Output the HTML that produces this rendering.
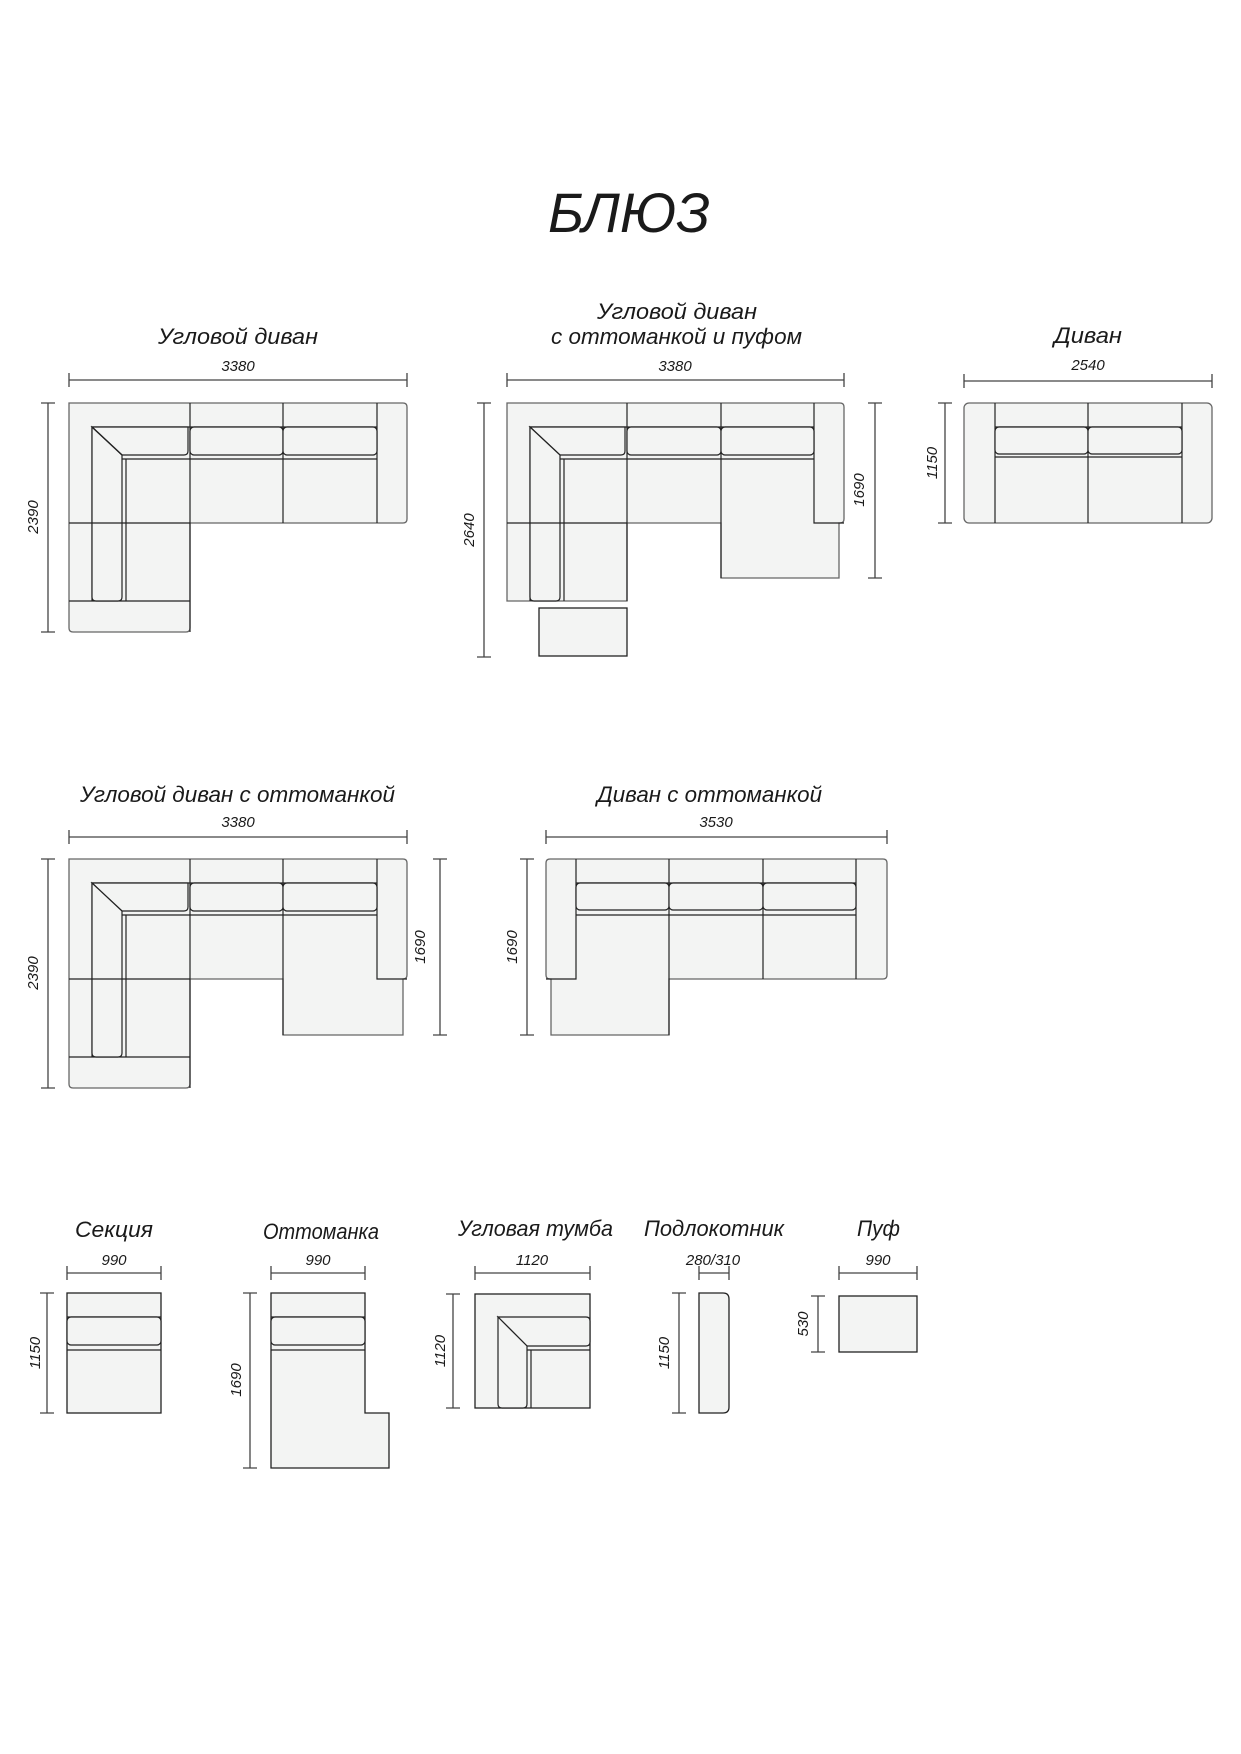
<!DOCTYPE html>
<html><head><meta charset="utf-8"><style>
html,body{margin:0;padding:0;background:#fff;}
svg{display:block}
text{font-family:"Liberation Sans","DejaVu Sans",sans-serif;font-style:italic;fill:#1a1a1a}
.t{font-size:22px}
.n{font-size:15px}
.o{fill:#f3f4f3;stroke:#666;stroke-width:1.3}
.i{fill:none;stroke:#222;stroke-width:1.2}
.c{fill:#f3f4f3;stroke:#222;stroke-width:1.2}
.d{fill:none;stroke:#444;stroke-width:1.3}
</style></head><body>
<svg width="1241" height="1754" viewBox="0 0 1241 1754" xmlns="http://www.w3.org/2000/svg">
<text x="548" y="232" style="font-size:56px" textLength="162" lengthAdjust="spacingAndGlyphs">БЛЮЗ</text>

<!-- ROW 1 titles -->
<text class="t" x="158" y="344" textLength="160" lengthAdjust="spacingAndGlyphs">Угловой диван</text>
<text class="t" x="597" y="319" textLength="160" lengthAdjust="spacingAndGlyphs">Угловой диван</text>
<text class="t" x="551" y="344" textLength="251" lengthAdjust="spacingAndGlyphs">с оттоманкой и пуфом</text>
<text class="t" x="1054" y="343" textLength="68" lengthAdjust="spacingAndGlyphs">Диван</text>
<text class="n" x="238" y="371" text-anchor="middle">3380</text>
<text class="n" x="675" y="371" text-anchor="middle">3380</text>
<text class="n" x="1088" y="370" text-anchor="middle">2540</text>

<!-- dims row1 -->
<path class="d" d="M69,380H407M69,373V387M407,373V387"/>
<path class="d" d="M48,403V632M41,403H55M41,632H55"/>
<text class="n" transform="translate(38,517) rotate(-90)" text-anchor="middle">2390</text>
<path class="d" d="M507,380H844M507,373V387M844,373V387"/>
<path class="d" d="M484,403V657M477,403H491M477,657H491"/>
<text class="n" transform="translate(474,530) rotate(-90)" text-anchor="middle">2640</text>
<path class="d" d="M875,403V578M868,403H882M868,578H882"/>
<text class="n" transform="translate(864,490) rotate(-90)" text-anchor="middle">1690</text>
<path class="d" d="M964,381H1212M964,374V388M1212,374V388"/>
<path class="d" d="M945,403V523M938,403H952M938,523H952"/>
<text class="n" transform="translate(937,463) rotate(-90)" text-anchor="middle">1150</text>

<!-- Sofa 1 -->
<g>
<path class="o" d="M69,403H403q4,0 4,4V519q0,4 -4,4H190V628q0,4 -4,4H73q-4,0 -4,-4Z"/>
<path class="i" d="M190,403V632M283,403V523M377,403V523M69,523H190M69,601H190M92,601V427H377"/>
<path class="c" d="M92,427H188V451q0,4 -4,4H122Z"/>
<rect class="c" x="190" y="427" width="93" height="28" rx="4"/>
<rect class="c" x="283" y="427" width="94" height="28" rx="4"/>
<path class="c" d="M92,427L122,455V597q0,4 -4,4H96q-4,0 -4,-4Z"/>
<path class="i" d="M92,523H122M122,459H377M126,459V601"/>
<path class="i" d="M92,427L122,455"/>
</g>

<!-- Sofa 2 -->
<g>
<path class="o" d="M507,403H840q4,0 4,4V519q0,4 -4,4H839V578H721V523H627V601H507Z"/>
<path class="i" d="M627,403V601M721,403V578M814,403V523H844M507,523H627M530,601V427H814"/>
<path class="c" d="M530,427H625V451q0,4 -4,4H560Z"/>
<rect class="c" x="627" y="427" width="94" height="28" rx="4"/>
<rect class="c" x="721" y="427" width="93" height="28" rx="4"/>
<path class="c" d="M530,427L560,455V597q0,4 -4,4H534q-4,0 -4,-4Z"/>
<path class="i" d="M530,523H560M560,459H814M564,459V601"/>
<rect class="o" x="539" y="608" width="88" height="48" style="stroke:#222"/>
</g>

<!-- Divan -->
<g>
<rect class="o" x="964" y="403" width="248" height="120" rx="5"/>
<path class="i" d="M995,403V523M1088,403V523M1182,403V523M995,427H1182M995,457H1182"/>
<rect class="c" x="995" y="427" width="93" height="27" rx="4"/>
<rect class="c" x="1088" y="427" width="94" height="27" rx="4"/>
</g>

<!-- ROW 2 -->
<text class="t" x="80" y="802" textLength="315" lengthAdjust="spacingAndGlyphs">Угловой диван с оттоманкой</text>
<text class="t" x="597" y="802" textLength="225" lengthAdjust="spacingAndGlyphs">Диван с оттоманкой</text>
<text class="n" x="238" y="827" text-anchor="middle">3380</text>
<text class="n" x="716" y="827" text-anchor="middle">3530</text>
<path class="d" d="M69,837H407M69,830V844M407,830V844"/>
<path class="d" d="M48,859V1088M41,859H55M41,1088H55"/>
<text class="n" transform="translate(38,973) rotate(-90)" text-anchor="middle">2390</text>
<path class="d" d="M440,859V1035M433,859H447M433,1035H447"/>
<text class="n" transform="translate(425,947) rotate(-90)" text-anchor="middle">1690</text>
<path class="d" d="M546,837H887M546,830V844M887,830V844"/>
<path class="d" d="M527,859V1035M520,859H534M520,1035H534"/>
<text class="n" transform="translate(517,947) rotate(-90)" text-anchor="middle">1690</text>

<!-- Sofa 3 -->
<g>
<path class="o" d="M69,859H403q4,0 4,4V975q0,4 -4,4H403V1035H283V979H190V1084q0,4 -4,4H73q-4,0 -4,-4Z"/>
<path class="i" d="M190,859V1088M283,859V1035M377,859V979H407M69,979H190M69,1057H190M92,1057V883H377"/>
<path class="c" d="M92,883H188V907q0,4 -4,4H122Z"/>
<rect class="c" x="190" y="883" width="93" height="28" rx="4"/>
<rect class="c" x="283" y="883" width="94" height="28" rx="4"/>
<path class="c" d="M92,883L122,911V1053q0,4 -4,4H96q-4,0 -4,-4Z"/>
<path class="i" d="M92,979H122M122,915H377M126,915V1057"/>
</g>

<!-- Sofa 4 -->
<g>
<path class="o" d="M551,859H883q4,0 4,4V975q0,4 -4,4H669V1035H551V979H550q-4,0 -4,-4V863q0,-4 4,-4Z"/>
<path class="i" d="M576,859V979H546M669,859V1035M763,859V979M856,859V979M576,883H856M576,915H856"/>
<rect class="c" x="576" y="883" width="93" height="27" rx="4"/>
<rect class="c" x="669" y="883" width="94" height="27" rx="4"/>
<rect class="c" x="763" y="883" width="93" height="27" rx="4"/>
</g>

<!-- ROW 3 -->
<text class="t" x="75" y="1237" textLength="78" lengthAdjust="spacingAndGlyphs">Секция</text>
<text class="t" x="263" y="1239" textLength="116" lengthAdjust="spacingAndGlyphs">Оттоманка</text>
<text class="t" x="458" y="1236" textLength="155" lengthAdjust="spacingAndGlyphs">Угловая тумба</text>
<text class="t" x="644" y="1236" textLength="140" lengthAdjust="spacingAndGlyphs">Подлокотник</text>
<text class="t" x="857" y="1236" textLength="43" lengthAdjust="spacingAndGlyphs">Пуф</text>
<text class="n" x="114" y="1265" text-anchor="middle">990</text>
<text class="n" x="318" y="1265" text-anchor="middle">990</text>
<text class="n" x="532" y="1265" text-anchor="middle">1120</text>
<text class="n" x="713" y="1265" text-anchor="middle">280/310</text>
<text class="n" x="878" y="1265" text-anchor="middle">990</text>

<path class="d" d="M67,1273H161M67,1266V1280M161,1266V1280"/>
<path class="d" d="M47,1293V1413M40,1293H54M40,1413H54"/>
<text class="n" transform="translate(40,1353) rotate(-90)" text-anchor="middle">1150</text>
<path class="d" d="M271,1273H365M271,1266V1280M365,1266V1280"/>
<path class="d" d="M250,1293V1468M243,1293H257M243,1468H257"/>
<text class="n" transform="translate(241,1380) rotate(-90)" text-anchor="middle">1690</text>
<path class="d" d="M475,1273H590M475,1266V1280M590,1266V1280"/>
<path class="d" d="M453,1294V1408M446,1294H460M446,1408H460"/>
<text class="n" transform="translate(445,1351) rotate(-90)" text-anchor="middle">1120</text>
<path class="d" d="M699,1273H729M699,1266V1280M729,1266V1280"/>
<path class="d" d="M679,1293V1413M672,1293H686M672,1413H686"/>
<text class="n" transform="translate(669,1353) rotate(-90)" text-anchor="middle">1150</text>
<path class="d" d="M839,1273H917M839,1266V1280M917,1266V1280"/>
<path class="d" d="M818,1296V1352M811,1296H825M811,1352H825"/>
<text class="n" transform="translate(808,1324) rotate(-90)" text-anchor="middle">530</text>

<!-- Секция -->
<rect class="o" x="67" y="1293" width="94" height="120" style="stroke:#222"/>
<path class="i" d="M67,1317H161M67,1350H161"/>
<rect class="c" x="67" y="1317" width="94" height="28" rx="4"/>
<!-- Оттоманка -->
<path class="o" style="stroke:#222" d="M271,1293H365V1413H389V1468H271Z"/>
<path class="i" d="M271,1317H365M271,1350H365"/>
<rect class="c" x="271" y="1317" width="94" height="28" rx="4"/>
<!-- Угловая тумба -->
<rect class="o" x="475" y="1294" width="115" height="114" style="stroke:#222"/>
<path class="i" d="M527,1350H590M531,1350V1408"/>
<path class="c" d="M498,1317H586q4,0 4,4V1342q0,4 -4,4H527Z"/>
<path class="c" d="M498,1317L527,1346V1404q0,4 -4,4H502q-4,0 -4,-4Z"/>
<!-- Подлокотник -->
<path class="o" style="stroke:#222" d="M699,1293H723q6,0 6,6V1407q0,6 -6,6H699Z"/>
<!-- Пуф -->
<rect class="o" x="839" y="1296" width="78" height="56" style="stroke:#222"/>
</svg>
</body></html>
